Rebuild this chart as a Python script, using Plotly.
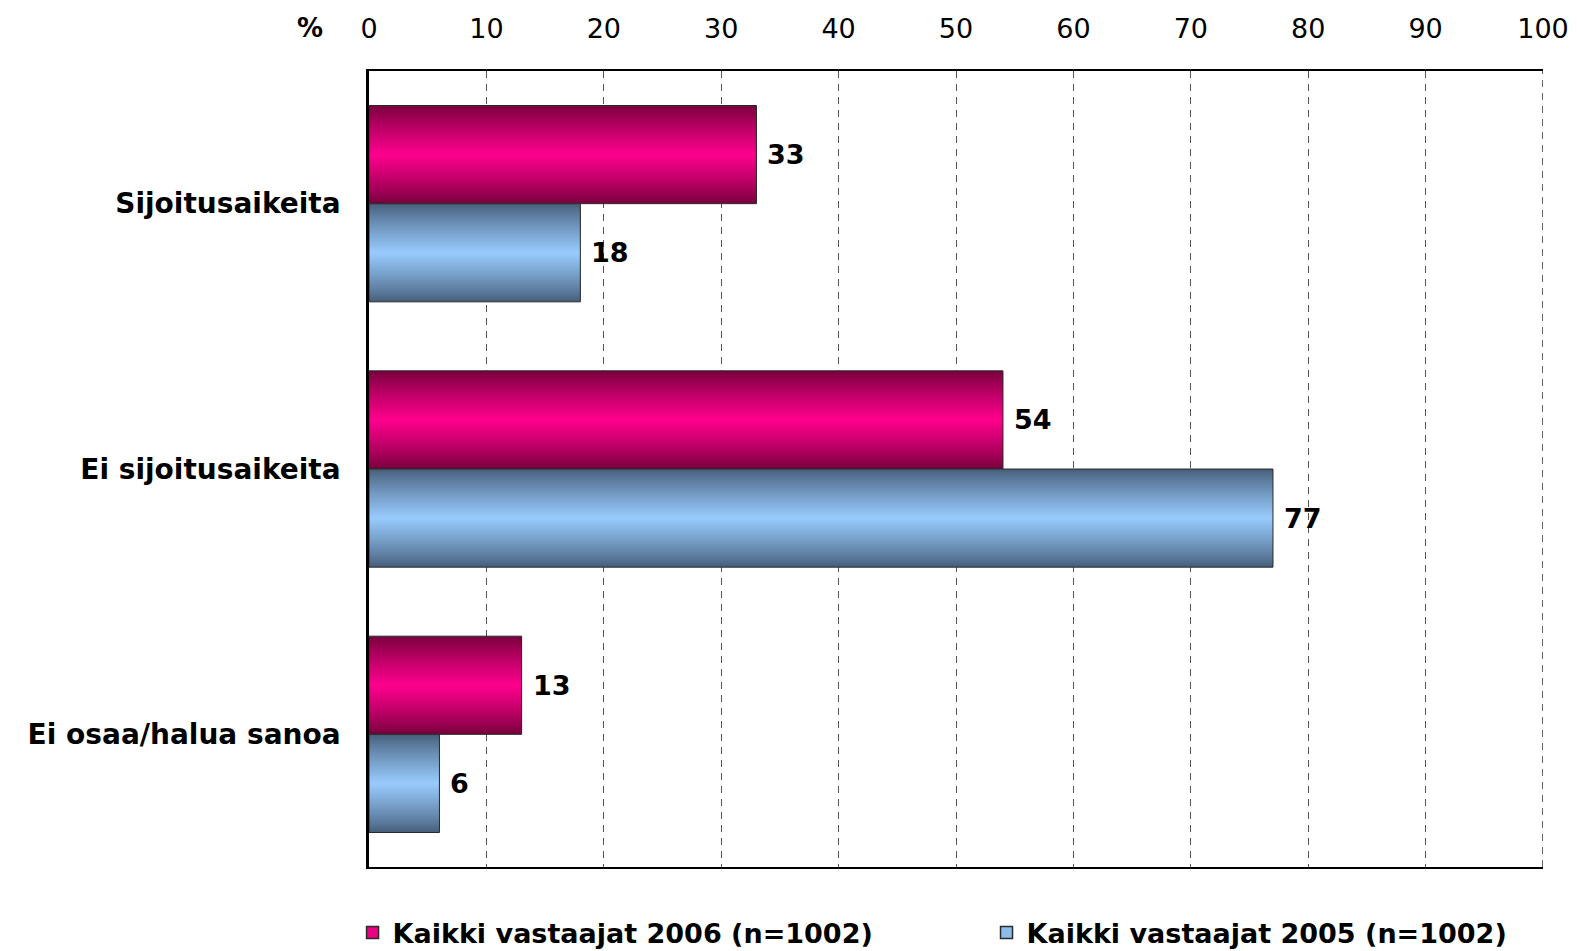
import plotly.graph_objects as go

# data
categories = ["Sijoitusaikeita", "Ei sijoitusaikeita", "Ei osaa/halua sanoa"]
series_names = ["Kaikki vastaajat 2006 (n=1002)", "Kaikki vastaajat 2005 (n=1002)"]
values_2006 = [33, 54, 13]
values_2005 = [18, 77, 6]
x_ticks = [0, 10, 20, 30, 40, 50, 60, 70, 80, 90, 100]

# edge colour / centre colour for the shaded ("cylinder") bars
pink_edge, pink_mid = (118, 0, 60), (255, 0, 142)
blue_edge, blue_mid = (70, 94, 122), (153, 204, 255)

BAR_W = 0.37  # bar thickness in category units
N_LAYERS = 36
FONT = "DejaVu Sans"

fig = go.Figure()
ypos = list(range(len(categories)))


def mix(c0, c1, t):
    return "rgb(%d,%d,%d)" % tuple(round(a + (b - a) * t) for a, b in zip(c0, c1))


def shaded_bar(values, offset, edge, mid, name, legend):
    # nested bars, widest/darkest first, narrowest/brightest on top -> vertical gradient
    centre = offset + BAR_W / 2
    for j in range(N_LAYERS):
        frac = 1 - j / N_LAYERS          # relative half-thickness of this layer
        k = (1 - frac) ** 0.85
        w = BAR_W * frac
        fig.add_trace(go.Bar(
            x=values, y=ypos, orientation="h",
            offset=centre - w / 2, width=w,
            marker=dict(color=mix(edge, mid, k), line=dict(width=0)),
            showlegend=False, hoverinfo="skip",
        ))
    # outline on top
    fig.add_trace(go.Bar(
        x=values, y=ypos, orientation="h", offset=offset, width=BAR_W,
        marker=dict(color="rgba(0,0,0,0)", line=dict(color="#2b2b2b", width=1)),
        showlegend=False, name=name,
        hovertemplate="%{x}<extra>" + name + "</extra>",
    ))
    # legend-only entry
    fig.add_trace(go.Bar(
        x=[None], y=[None], orientation="h", name=name, legend=legend,
        marker=dict(color=mix(edge, mid, 0.85), line=dict(color="#2b2b2b", width=1.5)),
    ))


shaded_bar(values_2006, -BAR_W, pink_edge, pink_mid, series_names[0], "legend")
shaded_bar(values_2005, 0.0, blue_edge, blue_mid, series_names[1], "legend2")

# value labels just past the bar ends
for vals, dy in ((values_2006, -BAR_W / 2), (values_2005, BAR_W / 2)):
    for y, v in zip(ypos, vals):
        fig.add_annotation(x=v, y=y + dy, text=str(v), showarrow=False,
                           xanchor="left", xshift=9,
                           font=dict(family=FONT, size=27, color="black", weight="bold"))

fig.add_annotation(xref="paper", yref="paper", x=-0.05, y=1, yshift=43,
                   xanchor="center", yanchor="middle",
                   text="%", showarrow=False,
                   font=dict(family=FONT, size=26, color="black", weight="bold"))

# gridline at the last tick (plotly leaves it out at the range edge)
fig.add_shape(type="line", xref="x", yref="paper", x0=x_ticks[-1], x1=x_ticks[-1], y0=0, y1=1,
              line=dict(color="#333333", width=1.5, dash="7px,6px"), layer="above")

legend_style = dict(orientation="h", y=-0.083, xanchor="left", yanchor="middle",
                    bgcolor="rgba(0,0,0,0)",
                    font=dict(family=FONT, size=27, color="black", weight="bold"))

# page body has an 8px margin, so the figure is a bit smaller than the window
fig.update_layout(
    width=1569, height=943,
    barmode="overlay",
    paper_bgcolor="white", plot_bgcolor="white",
    margin=dict(l=361, r=34, t=63, b=84, autoexpand=False),
    showlegend=True,
    legend=dict(x=-0.014, **legend_style),
    legend2=dict(x=0.526, **legend_style),
    xaxis=dict(range=[0, 100], side="top", tickvals=x_ticks, automargin=False,
               tickfont=dict(family=FONT, size=27, color="black"),
               ticklabelstandoff=20,
               showgrid=True, gridcolor="#555555", gridwidth=1, griddash="7px,6px",
               zeroline=False, showline=True, linecolor="black", linewidth=1.5, mirror=True),
    yaxis=dict(range=[2.5, -0.5], tickvals=ypos, ticktext=categories, automargin=False,
               tickfont=dict(family=FONT, size=28, color="black", weight="bold"),
               ticklabelstandoff=20,
               showgrid=False, zeroline=False,
               showline=True, linecolor="black", linewidth=2.5),
)

fig.write_html("out.html")
